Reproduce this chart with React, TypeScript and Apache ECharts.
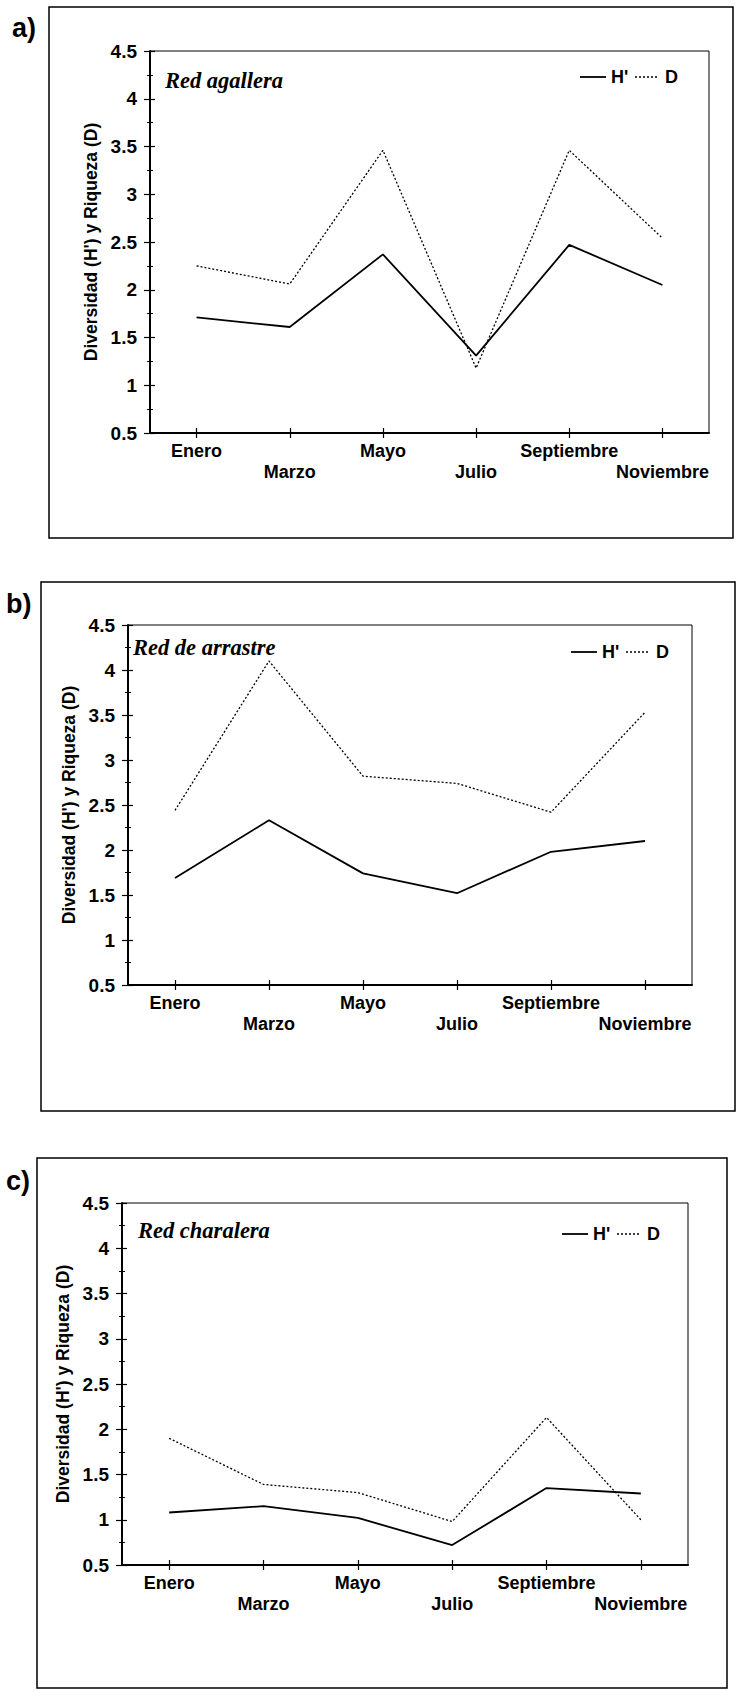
import React, { useEffect, useRef } from "react";
import * as echarts from "echarts";

const months = ["Enero", "Marzo", "Mayo", "Julio", "Septiembre", "Noviembre"];
const yTickMin = 0.5;
const yTickMax = 4.5;
const yTickStep = 0.5;

const agalleraH = [1.71, 1.61, 2.37, 1.31, 2.47, 2.05];
const agalleraD = [2.25, 2.06, 3.46, 1.18, 3.46, 2.54];
const arrastreH = [1.69, 2.33, 1.74, 1.52, 1.98, 2.1];
const arrastreD = [2.44, 4.1, 2.82, 2.74, 2.42, 3.53];
const charaleraH = [1.08, 1.15, 1.02, 0.72, 1.35, 1.29];
const charaleraD = [1.9, 1.39, 1.3, 0.98, 2.13, 1.0];

const panelTitles = ["Red agallera", "Red de arrastre", "Red charalera"];
const panelLetters = ["a)", "b)", "c)"];
const seriesNames = ["H'", "D"];
const yAxisTitle = "Diversidad (H') y Riqueza (D)";

const SANS = "'Liberation Sans', Arial, sans-serif";
const SERIF = "'Liberation Serif', 'Times New Roman', serif";

const H_STYLE = { color: "#000", width: 1.8, type: "solid" as any };
const D_STYLE = { color: "#000", width: 1.3, type: [2, 2] as any };

const panels = [
  {
    H: agalleraH, D: agalleraD,
    box: { x: 49, y: 7, w: 684, h: 531 },
    grid: { left: 150, top: 51, width: 559, height: 382 },
    letter: { x: 12, y: 28 },
    title: { x: 165, y: 80 },
    legend: { x: 580, y: 77 },
  },
  {
    H: arrastreH, D: arrastreD,
    box: { x: 41, y: 582, w: 694, h: 529 },
    grid: { left: 128, top: 625, width: 564, height: 360 },
    letter: { x: 6, y: 604 },
    title: { x: 133, y: 647 },
    legend: { x: 571, y: 652 },
  },
  {
    H: charaleraH, D: charaleraD,
    box: { x: 37, y: 1158, w: 690, h: 530 },
    grid: { left: 122, top: 1203, width: 566, height: 362 },
    letter: { x: 6, y: 1181 },
    title: { x: 138, y: 1230 },
    legend: { x: 562, y: 1234 },
  },
];

function legendGraphics(x: number, y: number) {
  const textStyle = {
    fontFamily: SANS,
    fontWeight: "bold",
    fontSize: 18,
    fill: "#000",
    verticalAlign: "middle",
  };
  return [
    {
      type: "line",
      shape: { x1: x, y1: y, x2: x + 26, y2: y },
      style: { stroke: H_STYLE.color, lineWidth: H_STYLE.width },
    },
    { type: "text", x: x + 31, y, style: { ...textStyle, text: seriesNames[0] } },
    {
      type: "line",
      shape: { x1: x + 55, y1: y, x2: x + 79, y2: y },
      style: { stroke: D_STYLE.color, lineWidth: D_STYLE.width, lineDash: [2, 2] },
    },
    { type: "text", x: x + 85, y, style: { ...textStyle, text: seriesNames[1] } },
  ];
}

function buildOption() {
  const grid: any[] = [];
  const xAxis: any[] = [];
  const yAxis: any[] = [];
  const series: any[] = [];
  const graphic: any[] = [];

  panels.forEach((p, i) => {
    grid.push({
      left: p.grid.left,
      top: p.grid.top,
      width: p.grid.width,
      height: p.grid.height,
      show: true,
      borderColor: "#000",
      borderWidth: 1,
      backgroundColor: "transparent",
    });
    xAxis.push({
      type: "category",
      gridIndex: i,
      data: months,
      boundaryGap: true,
      axisLine: { show: true, lineStyle: { color: "#000", width: 2 } },
      axisTick: { show: true, alignWithLabel: true, length: 5, lineStyle: { color: "#000", width: 1.2 } },
      axisLabel: {
        interval: 0,
        margin: 7,
        color: "#000",
        fontFamily: SANS,
        fontWeight: "bold",
        fontSize: 18,
        lineHeight: 21,
        formatter: (v: string, idx: number) => (idx % 2 === 0 ? v : "\n" + v),
      },
      splitLine: { show: false },
    });
    xAxis.push({
      type: "category",
      gridIndex: i,
      data: months,
      position: "bottom",
      boundaryGap: true,
      axisLine: { show: false },
      axisTick: { show: true, inside: true, alignWithLabel: true, length: 5, lineStyle: { color: "#000", width: 1.2 } },
      axisLabel: { show: false },
      splitLine: { show: false },
    });
    yAxis.push({
      type: "value",
      gridIndex: i,
      min: yTickMin,
      max: yTickMax,
      interval: yTickStep,
      name: yAxisTitle,
      nameLocation: "middle",
      nameRotate: 90,
      nameGap: 50,
      nameTextStyle: { color: "#000", fontFamily: SANS, fontWeight: "bold", fontSize: 17.5 },
      axisLine: { show: true, lineStyle: { color: "#000", width: 2 } },
      axisTick: { show: true, length: 6, lineStyle: { color: "#000", width: 1.2 } },
      minorTick: { show: true, splitNumber: 2, length: 3, lineStyle: { color: "#000", width: 1 } },
      axisLabel: {
        margin: 13,
        color: "#000",
        fontFamily: SANS,
        fontWeight: "bold",
        fontSize: 19,
        formatter: (v: number) => String(v),
      },
      splitLine: { show: false },
    });
    yAxis.push({
      type: "value",
      gridIndex: i,
      position: "left",
      min: yTickMin,
      max: yTickMax,
      interval: yTickStep,
      axisLine: { show: false },
      axisTick: { show: true, inside: true, length: 5, lineStyle: { color: "#000", width: 1.2 } },
      minorTick: { show: true, splitNumber: 2, length: 3, lineStyle: { color: "#000", width: 1 } },
      axisLabel: { show: false },
      splitLine: { show: false },
    });

    series.push({
      name: seriesNames[0],
      type: "line",
      xAxisIndex: 2 * i,
      yAxisIndex: 2 * i,
      data: p.H,
      symbol: "none",
      lineStyle: H_STYLE,
      itemStyle: { color: "#000" },
    });
    series.push({
      name: seriesNames[1],
      type: "line",
      xAxisIndex: 2 * i,
      yAxisIndex: 2 * i,
      data: p.D,
      symbol: "none",
      lineStyle: D_STYLE,
      itemStyle: { color: "#000" },
    });

    graphic.push({
      type: "rect",
      shape: { x: p.box.x, y: p.box.y, width: p.box.w, height: p.box.h },
      style: { fill: "none", stroke: "#000", lineWidth: 1.5 },
      z: 0,
    });
    graphic.push({
      type: "text",
      x: p.letter.x,
      y: p.letter.y,
      style: {
        text: panelLetters[i],
        fontFamily: SANS,
        fontWeight: "bold",
        fontSize: 27,
        fill: "#000",
        verticalAlign: "middle",
      },
    });
    graphic.push({
      type: "text",
      x: p.title.x,
      y: p.title.y,
      style: {
        text: panelTitles[i],
        fontFamily: SERIF,
        fontWeight: "bold",
        fontStyle: "italic",
        fontSize: 22.5,
        fill: "#000",
        verticalAlign: "middle",
      },
    });
    graphic.push(...legendGraphics(p.legend.x, p.legend.y));
  });

  return {
    animation: false,
    backgroundColor: "#fff",
    grid,
    xAxis,
    yAxis,
    series,
    graphic,
  };
}

export default function App() {
  const ref = useRef<HTMLDivElement>(null);
  useEffect(() => {
    if (!ref.current) return;
    const chart = echarts.init(ref.current, null, { renderer: "svg" });
    chart.setOption(buildOption() as any);
    return () => chart.dispose();
  }, []);
  return (
    <div
      ref={ref}
      style={{ position: "absolute", left: 0, top: 0, width: 736, height: 1691, background: "#fff" }}
    />
  );
}
